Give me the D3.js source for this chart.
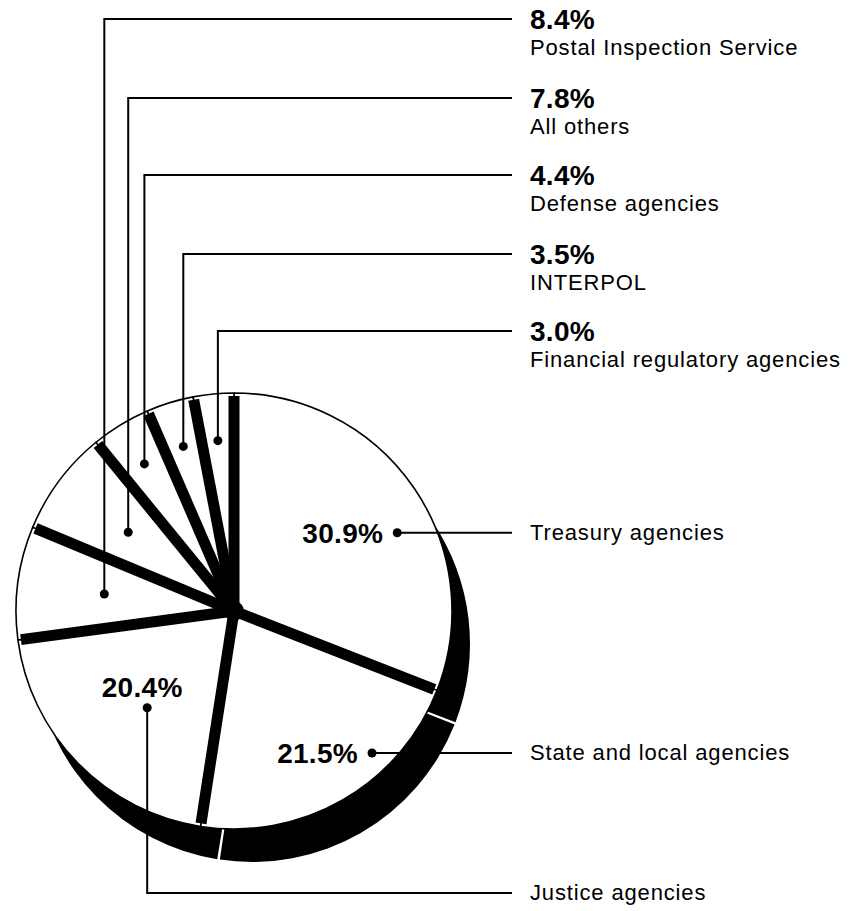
<!DOCTYPE html>
<html>
<head>
<meta charset="utf-8">
<script src="https://cdn.jsdelivr.net/npm/d3@7"></script>
<style>
  html, body { margin: 0; padding: 0; background: #fff; }
  svg { display: block; }
  text { font-family: "Liberation Sans", Arial, Helvetica, sans-serif; fill: #000; }
</style>
</head>
<body>
<svg id="chart" width="854" height="911"></svg>
<script>
// ---- Data ----
const categories = [
  "Treasury agencies",
  "State and local agencies",
  "Justice agencies",
  "Postal Inspection Service",
  "All others",
  "Defense agencies",
  "INTERPOL",
  "Financial regulatory agencies"
];
const shares = [30.9, 21.5, 20.4, 8.4, 7.8, 4.4, 3.5, 3.0];
const shareLabels = ["30.9%", "21.5%", "20.4%", "8.4%", "7.8%", "4.4%", "3.5%", "3.0%"];

// ---- Layout ----
const W = 854, H = 911;
const cx = 234, cy = 611, R = 218;
const labelX = 530, lineEndX = 512;
const callouts = [
  { type: "right", dotAngle: 64.4, dotR: 181, textEnd: -14 },
  { type: "right", dotAngle: 135.8, dotR: 198, textEnd: -14 },
  { type: "down",  dotAngle: 221.9, dotR: 130, rowY: 893 },
  { type: "top", dotRFrac: 0.6, rowY: 19 },
  { type: "top", dotRFrac: 0.605, rowY: 98 },
  { type: "top", dotRFrac: 0.79, rowY: 175 },
  { type: "top", dotRFrac: 0.79, rowY: 254 },
  { type: "top", dotRFrac: 0.785, rowY: 331 }
];

const svg = d3.select("#chart");
const g = svg.append("g").attr("transform", `translate(${cx},${cy})`);

const data = categories.map((c, i) => ({ name: c, value: shares[i], label: shareLabels[i], i }));
const pie = d3.pie().value(d => d.value).sort(null);
const arcs = pie(data);

// Shadow (extruded side), offset down-right
const shadowArc = d3.arc().innerRadius(0).outerRadius(R).padAngle(0.012).padRadius(R);
g.append("g").attr("transform", "translate(18,33)")
  .selectAll("path").data(arcs).join("path")
  .attr("d", shadowArc).attr("fill", "#000");

// White slice faces
const faceArc = d3.arc().innerRadius(0).outerRadius(R);
g.append("g").selectAll("path").data(arcs).join("path")
  .attr("d", faceArc)
  .attr("fill", "#fff")
  .attr("stroke", "#000")
  .attr("stroke-width", 1.6)
  .attr("stroke-linejoin", "round");

// Thick black separators at each slice boundary
g.append("g").selectAll("line").data(arcs).join("line")
  .attr("x1", 0).attr("y1", 0)
  .attr("x2", d => d3.pointRadial(d.startAngle, R - 3)[0])
  .attr("y2", d => d3.pointRadial(d.startAngle, R - 3)[1])
  .attr("stroke", "#000")
  .attr("stroke-width", 11)
  .attr("stroke-linecap", "butt");
g.append("circle").attr("r", 10).attr("fill", "#000");

// ---- Callouts ----
const lines = svg.append("g").attr("fill", "none").attr("stroke", "#000").attr("stroke-width", 2);
const labels = svg.append("g");

arcs.forEach((a, i) => {
  const c = callouts[i];
  let p;
  if (c.type === "top") {
    const mid = (a.startAngle + a.endAngle) / 2;
    p = d3.pointRadial(mid, R * c.dotRFrac);
  } else {
    p = d3.pointRadial(c.dotAngle * Math.PI / 180, c.dotR);
  }
  const dx = cx + p[0], dy = cy + p[1];
  labels.append("circle").attr("cx", dx).attr("cy", dy).attr("r", 4.5).attr("fill", "#000");

  if (c.type === "right") {
    lines.append("path").attr("d", `M${dx},${dy}H${lineEndX}`);
    labels.append("text").attr("x", dx + c.textEnd).attr("y", dy + 10)
      .attr("text-anchor", "end").attr("font-weight", "bold")
      .attr("font-size", 28).attr("letter-spacing", 0.3).text(a.data.label);
    labels.append("text").attr("x", labelX).attr("y", dy + 7)
      .attr("font-size", 22).attr("letter-spacing", 0.85).text(a.data.name);
  } else if (c.type === "down") {
    lines.append("path").attr("d", `M${dx},${dy}V${c.rowY}H${lineEndX}`);
    labels.append("text").attr("x", dx - 5).attr("y", dy - 11)
      .attr("text-anchor", "middle").attr("font-weight", "bold")
      .attr("font-size", 28).attr("letter-spacing", 0.3).text(a.data.label);
    labels.append("text").attr("x", labelX).attr("y", c.rowY + 7)
      .attr("font-size", 22).attr("letter-spacing", 0.85).text(a.data.name);
  } else {
    lines.append("path").attr("d", `M${dx},${dy}V${c.rowY}H${lineEndX}`);
    labels.append("text").attr("x", labelX).attr("y", c.rowY + 10)
      .attr("font-weight", "bold").attr("font-size", 28).attr("letter-spacing", 0.3)
      .text(a.data.label);
    labels.append("text").attr("x", labelX).attr("y", c.rowY + 36)
      .attr("font-size", 22).attr("letter-spacing", 0.85).text(a.data.name);
  }
});
</script>
</body>
</html>
